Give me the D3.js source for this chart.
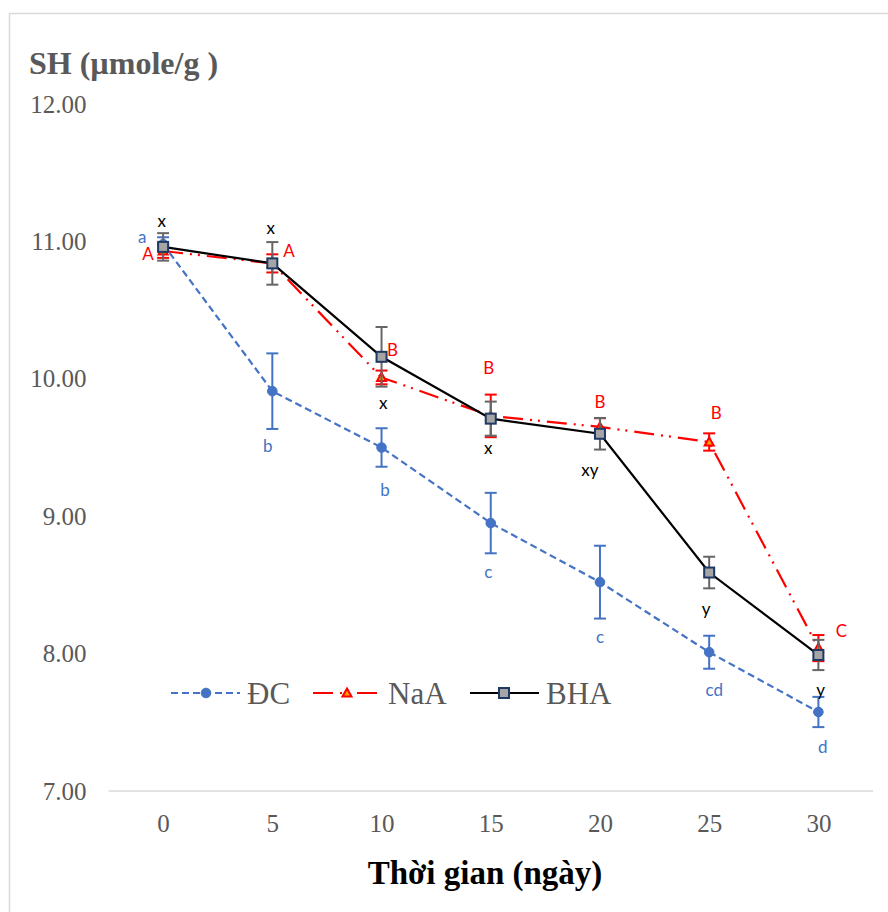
<!DOCTYPE html>
<html>
<head>
<meta charset="utf-8">
<script src="https://cdn.jsdelivr.net/npm/d3@7"></script>
<style>
  html, body { margin: 0; padding: 0; background: #fff; }
  svg { display: block; }
</style>
</head>
<body>
<svg id="chart" width="888" height="912"></svg>
<script>
// Storage time (days)
const days = ["0", "5", "10", "15", "20", "25", "30"];
const yTicks = [7, 8, 9, 10, 11, 12];

// SH content (µmole/g) and standard deviations per treatment
const dcValues  = [10.98, 9.91, 9.50, 8.95, 8.52, 8.01, 7.575];
const dcErrors  = [0.05, 0.275, 0.14, 0.22, 0.265, 0.12, 0.11];
const naaValues = [10.93, 10.84, 10.01, 9.73, 9.65, 9.54, 8.04];
const naaErrors = [0.05, 0.066, 0.05, 0.155, 0.063, 0.063, 0.095];
const bhaValues = [10.96, 10.84, 10.16, 9.71, 9.60, 8.59, 7.99];
const bhaErrors = [0.10, 0.155, 0.217, 0.124, 0.115, 0.115, 0.11];

// Significance letters
const dcLetters  = ["a", "b", "b", "c", "c", "cd", "d"];
const naaLetters = ["A", "A", "B", "B", "B", "B", "C"];
const bhaLetters = ["x", "x", "x", "x", "xy", "y", "y"];

// Letter placement relative to each point (px)
const dcLabelDx  = [-21, -4.5, 3.5, -2.4, 0, 5, 4.3];
const dcLabelDy  = [-5, 57, 44.5, 51, 57, 39, 37];
const naaLabelDx = [-15, 16.7, 11, -2, 0, 7, 23];
const naaLabelDy = [5, -11, -26, -46, -23.6, -27, -15];
const bhaLabelDx = [-1.4, -1.6, 1.8, -2.4, -10, -3, 2.3];
const bhaLabelDy = [-24, -33.4, 48, 31, 38, 38, 36.7];

const svg = d3.select("#chart");
const serif = "'Liberation Serif', 'Times New Roman', serif";
const sans = "Lato, 'Liberation Sans', sans-serif";
const grey = "#595959";

// Chart frame
svg.append("rect")
  .attr("x", 9.5).attr("y", 13.5)
  .attr("width", 900).attr("height", 920)
  .attr("fill", "none").attr("stroke", "#d9d9d9").attr("stroke-width", 1.5);

const x = d3.scalePoint().domain(days).range([108.5, 873]).padding(0.5);
const y = d3.scaleLinear().domain([7, 12]).range([791, 104]);

// Baseline
svg.append("line")
  .attr("x1", 108.5).attr("x2", 873)
  .attr("y1", y(7)).attr("y2", y(7))
  .attr("stroke", "#d9d9d9").attr("stroke-width", 1.5);

// Y axis labels
const yAxis = svg.append("g")
  .attr("transform", `translate(${108.5},0)`)
  .call(d3.axisLeft(y).tickValues(yTicks).tickFormat(d3.format(".2f")).tickSize(0).tickPadding(22));
yAxis.select(".domain").remove();
yAxis.selectAll("text")
  .attr("font-family", serif).attr("font-size", 25).attr("fill", grey);

// X axis labels
const xAxis = svg.append("g")
  .attr("transform", `translate(0,${y(7)})`)
  .call(d3.axisBottom(x).tickSize(0).tickPadding(23));
xAxis.select(".domain").remove();
xAxis.selectAll("text")
  .attr("font-family", serif).attr("font-size", 25).attr("fill", grey);

// Axis titles
svg.append("text")
  .attr("x", 29).attr("y", 74)
  .attr("font-family", serif).attr("font-size", 32).attr("font-weight", "bold")
  .attr("fill", grey)
  .text("SH (µmole/g )");

svg.append("text")
  .attr("x", 485).attr("y", 884)
  .attr("text-anchor", "middle")
  .attr("font-family", serif).attr("font-size", 33).attr("font-weight", "bold")
  .attr("fill", "#000")
  .text("Thời gian (ngày)");

// Marker drawing helpers
function drawMarker(g, type, cx, cy) {
  if (type === "circle") {
    g.append("circle").attr("cx", cx).attr("cy", cy).attr("r", 4.8)
      .attr("fill", "#4472C4").attr("stroke", "#4472C4").attr("stroke-width", 1);
  } else if (type === "triangle") {
    g.append("path")
      .attr("d", `M${cx},${cy - 4.5} L${cx + 4.5},${cy + 3.5} L${cx - 4.5},${cy + 3.5} Z`)
      .attr("fill", "#FFA000").attr("stroke", "#FF0000").attr("stroke-width", 2);
  } else {
    g.append("rect").attr("x", cx - 5).attr("y", cy - 5).attr("width", 10).attr("height", 10)
      .attr("fill", "#A5A5A5").attr("stroke", "#1F3864").attr("stroke-width", 2);
  }
}

const series = [
  { name: "ĐC", values: dcValues, errors: dcErrors, letters: dcLetters,
    dx: dcLabelDx, dy: dcLabelDy, color: "#4472C4", errColor: "#4472C4",
    dash: "7,4", marker: "circle", labelColor: "#4472C4" },
  { name: "NaA", values: naaValues, errors: naaErrors, letters: naaLetters,
    dx: naaLabelDx, dy: naaLabelDy, color: "#FF0000", errColor: "#FF0000",
    dash: "20,7,2,6,2,7", marker: "triangle", labelColor: "#FF0000" },
  { name: "BHA", values: bhaValues, errors: bhaErrors, letters: bhaLetters,
    dx: bhaLabelDx, dy: bhaLabelDy, color: "#000000", errColor: "#666666",
    dash: null, marker: "square", labelColor: "#000000" }
];

const line = d3.line()
  .x((d, i) => x(days[i]))
  .y(d => y(d));

series.forEach(s => {
  const g = svg.append("g");
  g.append("path")
    .datum(s.values)
    .attr("d", line)
    .attr("fill", "none")
    .attr("stroke", s.color)
    .attr("stroke-width", 2.2)
    .attr("stroke-dasharray", s.dash);

  // Error bars
  s.values.forEach((v, i) => {
    const cx = x(days[i]);
    const y1 = y(v + s.errors[i]), y2 = y(v - s.errors[i]);
    const eb = g.append("g").attr("stroke", s.errColor).attr("stroke-width", 2);
    eb.append("line").attr("x1", cx).attr("x2", cx).attr("y1", y1).attr("y2", y2);
    eb.append("line").attr("x1", cx - 6).attr("x2", cx + 6).attr("y1", y1).attr("y2", y1);
    eb.append("line").attr("x1", cx - 6).attr("x2", cx + 6).attr("y1", y2).attr("y2", y2);
  });

  s.values.forEach((v, i) => drawMarker(g, s.marker, x(days[i]), y(v)));
});

// Significance letters
series.forEach(s => {
  svg.append("g").selectAll("text")
    .data(s.letters)
    .join("text")
    .attr("x", (d, i) => x(days[i]) + s.dx[i])
    .attr("y", (d, i) => y(s.values[i]) + s.dy[i])
    .attr("text-anchor", "middle")
    .attr("dominant-baseline", "middle")
    .attr("font-family", sans).attr("font-size", 17)
    .attr("fill", s.labelColor)
    .text(d => d);
});

// Legend
const legendY = 693;
const legendItems = [
  { s: series[0], x1: 171, x2: 240, mx: 206, tx: 247 },
  { s: series[1], x1: 313, x2: 382, mx: 347, tx: 388 },
  { s: series[2], x1: 470, x2: 539, mx: 504, tx: 546 }
];
legendItems.forEach(it => {
  const g = svg.append("g");
  g.append("line")
    .attr("x1", it.x1).attr("x2", it.x2).attr("y1", legendY).attr("y2", legendY)
    .attr("stroke", it.s.color).attr("stroke-width", 2.2)
    .attr("stroke-dasharray", it.s.dash);
  drawMarker(g, it.s.marker, it.mx, legendY);
  g.append("text")
    .attr("x", it.tx).attr("y", legendY + 11)
    .attr("font-family", serif).attr("font-size", 31).attr("fill", grey)
    .text(it.s.name);
});
</script>
</body>
</html>
